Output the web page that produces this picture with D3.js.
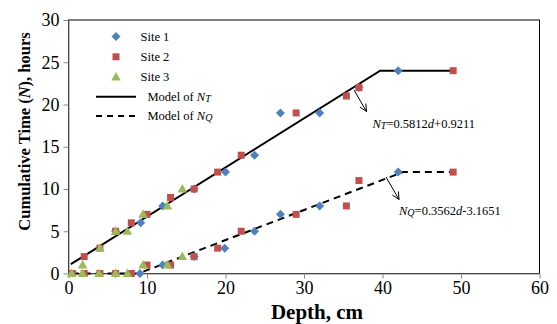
<!DOCTYPE html>
<html><head><meta charset="utf-8">
<script src="https://cdn.jsdelivr.net/npm/d3@7/dist/d3.min.js"></script>
<style>
body{margin:0;background:#fff;}
svg text{font-family:"Liberation Serif","Times New Roman",serif;}
</style></head>
<body><svg id="c" width="557" height="324"></svg>
<script>
// ---- data ----
const xTicks = [0,10,20,30,40,50,60];
const yTicks = [0,5,10,15,20,25,30];
const site1Depth = [6,9.2,12,16,20,23.7,27,32,37,42, 6,9.1,12,16,19.9,23.7,27,32,42];
const site1Time  = [5,6,8,10,12,14,19,19,22,24, 0,0,1,2,3,5,7,8,12];
const site2Depth = [2,4,6,8,10,13,16,19,22,29,35.4,37,49, 0.5,2,4,6,8,10,13,16,19,22,29,35.4,37,49];
const site2Time  = [2,3,5,6,7,9,10,12,14,19,21,22,24, 0,0,0,0,0,1,1,2,3,5,7,8,11,12];
const site3Depth = [1.8,4,6,7.5,9.5,12.6,14.5, 0.4,1.8,3.9,6,7.5,9.5,12.6,14.5];
const site3Time  = [1,3,5,5,7,8,10, 0,0,0,0,0,1,1,2];
const ntLineDepth = [0.3,39.7,49];
const ntLineTime  = [1.1,24,24];
const nqLineDepth = [0.4,8.9,42.6,49];
const nqLineTime  = [0,0,12,12];
const seriesNames = ["Site 1","Site 2","Site 3"];
const modelNames = ["T","Q"];

const svg = d3.select("#c");
const x = d3.scaleLinear().domain([0,60]).range([68.5,539.5]);
const y = d3.scaleLinear().domain([0,30]).range([273.5,20]);
const gray = "#868686";
const colors = ["#4F81BD","#C0504D","#9BBB59"];

// plot border
svg.append("rect").attr("x",x(0)).attr("y",y(30)).attr("width",x(60)-x(0)).attr("height",y(0)-y(30))
  .attr("fill","none").attr("stroke","#000").attr("stroke-width",1);

// axes
const xa = svg.append("g").attr("transform",`translate(0,${y(0)})`)
  .call(d3.axisBottom(x).tickValues(xTicks).tickSize(5).tickSizeOuter(0).tickPadding(3));
const ya = svg.append("g").attr("transform",`translate(${x(0)},0)`)
  .call(d3.axisLeft(y).tickValues(yTicks).tickSize(5).tickSizeOuter(0).tickPadding(4));
[xa,ya].forEach(a=>{
  a.select(".domain").attr("stroke",gray);
  a.selectAll(".tick line").attr("stroke",gray);
  a.selectAll(".tick text").attr("fill","#000").style("font-size","18px").style("font-family","Liberation Serif");
});

// model lines
const line = d3.line().x(d=>x(d[0])).y(d=>y(d[1]));
svg.append("path").attr("d",line(ntLineDepth.map((d,i)=>[d,ntLineTime[i]])))
  .attr("fill","none").attr("stroke","#000").attr("stroke-width",2);
svg.append("path").attr("d",line(nqLineDepth.map((d,i)=>[d,nqLineTime[i]])))
  .attr("fill","none").attr("stroke","#000").attr("stroke-width",2).attr("stroke-dasharray","7,5");

// markers
function marker(g,type,cx,cy,color){
  if(type===0){
    const r=4.5;
    g.append("path").attr("d",`M${cx},${cy-r}L${cx+r},${cy}L${cx},${cy+r}L${cx-r},${cy}Z`).attr("fill",color);
  } else if(type===1){
    const s=7;
    g.append("rect").attr("x",cx-s/2).attr("y",cy-s/2).attr("width",s).attr("height",s).attr("fill",color);
  } else {
    g.append("path").attr("d",`M${cx},${cy-5}L${cx+4.8},${cy+3.5}L${cx-4.8},${cy+3.5}Z`).attr("fill",color);
  }
}
const mg = svg.append("g");
[[site1Depth,site1Time],[site2Depth,site2Time],[site3Depth,site3Time]].forEach((s,k)=>{
  s[0].forEach((d,i)=>marker(mg,k,x(d),y(s[1][i]),colors[k]));
});

// legend
const lg = svg.append("g");
seriesNames.forEach((n,i)=>{
  const yy = 36.5 + i*20.3;
  marker(lg,i,116,yy,colors[i]);
  lg.append("text").attr("x",140.5).attr("y",yy+4.3).style("font-size","12.5px").text(n);
});
modelNames.forEach((m,i)=>{
  const yy = 96.7 + i*19.3;
  lg.append("line").attr("x1",96).attr("x2",136).attr("y1",yy).attr("y2",yy)
    .attr("stroke","#000").attr("stroke-width",2).attr("stroke-dasharray",i?"6,5":null);
  const t = lg.append("text").attr("x",147.5).attr("y",yy+4.3).style("font-size","12.5px");
  t.append("tspan").text("Model of ");
  t.append("tspan").style("font-style","italic").text("N");
  t.append("tspan").style("font-style","italic").style("font-size","10px").attr("dy",1).text(m);
});

// annotations
function arrow(x1,y1,x2,y2){
  svg.append("line").attr("x1",x1).attr("y1",y1).attr("x2",x2).attr("y2",y2).attr("stroke","#000").attr("stroke-width",1);
  const a=Math.atan2(y2-y1,x2-x1), L=8, w=0.45;
  svg.append("path").attr("d",`M${x2-L*Math.cos(a-w)},${y2-L*Math.sin(a-w)}L${x2},${y2}L${x2-L*Math.cos(a+w)},${y2-L*Math.sin(a+w)}`)
    .attr("fill","none").attr("stroke","#000").attr("stroke-width",1);
}
arrow(354,90,366.5,111.5);
arrow(386,177,399,199.5);
function eq(xx,yy,sub,rest1,rest2){
  const t = svg.append("text").attr("x",xx).attr("y",yy).style("font-size","12.5px");
  t.append("tspan").style("font-style","italic").text("N");
  t.append("tspan").style("font-style","italic").style("font-size","10px").attr("dy",1).text(sub);
  t.append("tspan").attr("dy",-1).text(rest1);
  t.append("tspan").style("font-style","italic").text("d");
  t.append("tspan").text(rest2);
}
eq(372.5,127.5,"T","=0.5812","+0.9211");
eq(399,214.5,"Q","=0.3562","-3.1651");

// axis titles
svg.append("text").attr("x",317).attr("y",319).attr("text-anchor","middle")
  .style("font-size","21px").style("font-weight","bold").text("Depth, cm");
const yt = svg.append("text").attr("transform","translate(30,131.5) rotate(-90)").attr("text-anchor","middle")
  .style("font-size","16.5px").style("font-weight","bold");
yt.append("tspan").text("Cumulative Time (");
yt.append("tspan").style("font-style","italic").text("N");
yt.append("tspan").text("), hours");
</script></body></html>
